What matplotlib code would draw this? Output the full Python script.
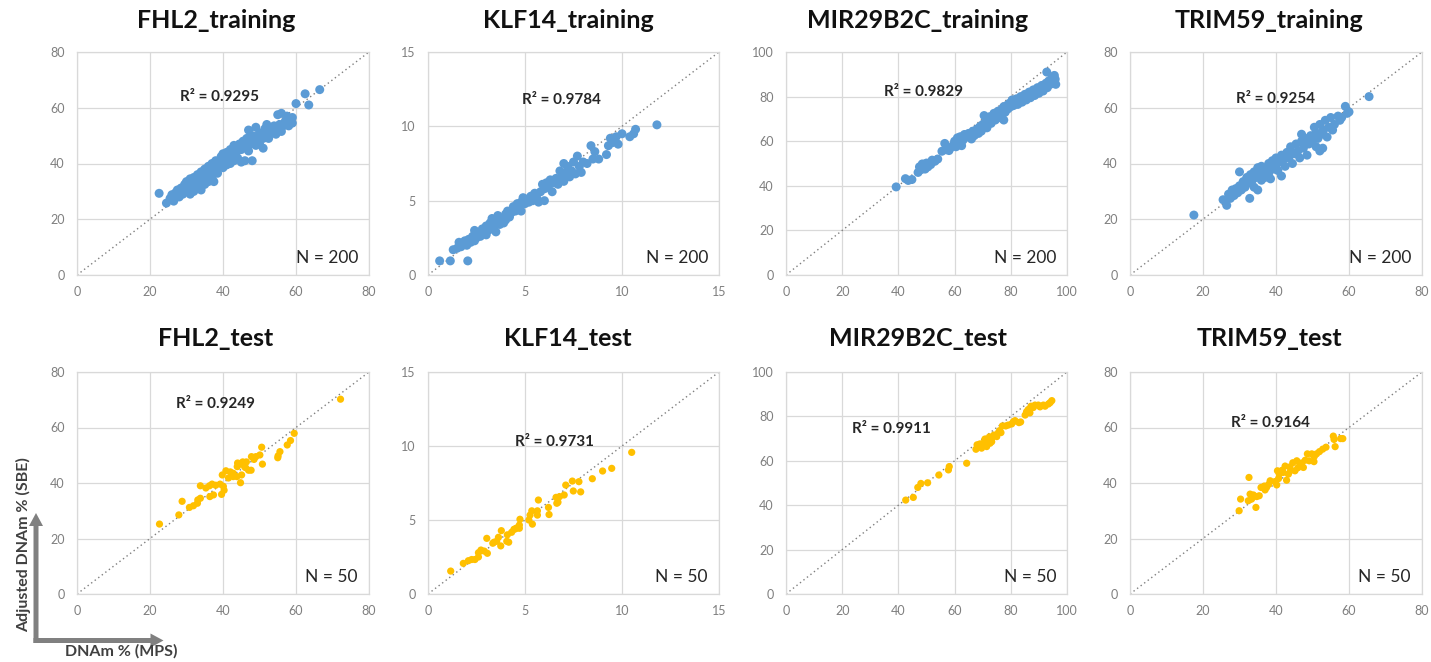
import matplotlib.pyplot as plt
import numpy as np

plt.rcParams['font.family'] = ['Lato', 'DejaVu Sans']

# --- data ---
titles = ['FHL2_training', 'KLF14_training', 'MIR29B2C_training', 'TRIM59_training',
          'FHL2_test', 'KLF14_test', 'MIR29B2C_test', 'TRIM59_test']
r2_labels = ['R² = 0.9295', 'R² = 0.9784', 'R² = 0.9829', 'R² = 0.9254',
             'R² = 0.9249', 'R² = 0.9731', 'R² = 0.9911', 'R² = 0.9164']
n_labels = ['N = 200'] * 4 + ['N = 50'] * 4
axis_max = [80, 15, 100, 80, 80, 15, 100, 80]
tick_step = [20, 5, 20, 20, 20, 5, 20, 20]

fhl2_train = [(22.5,29.3),(24.5,25.8),(25.5,27.5),(26,28.8),(26.5,26.5),(27,29.5),(27.5,30.5),(28,28),
              (28.5,31.2),(29,29),(29.5,32.5),(30,30.2),(30,33.5),(30.5,31.5),(31,29),(31,34.5),
              (31.5,32.5),(32,30),(32,35),(32.5,33),(33,31.5),(33,36),(33.5,34),(34,30.5),(34,37),
              (34.5,35),(35,32.5),(35,38),(35.5,36),(36,33.5),(36,39),(36.5,37),(37,35),(37,40),
              (37.5,33.5),(38,38),(38,41),(38.5,36.5),(39,39.5),(39.5,42.5),(40,38.5),(40,43.5),
              (40.5,41),(41,39.5),(41,44),(41.5,42),(42,40),(42,45),(42.5,43),(43,41),(43,46.5),
              (43.5,44),(44,42),(44.5,47),(45,40.5),(45,45),(45.5,48),(46,41),(46,46.5),(46.5,49),
              (47,44.5),(47,52),(47.5,47),(48,41),(48,50),(48.5,48),(49,46.5),(49,53),(49.5,49.5),
              (50,47),(50,51),(50.5,50.5),(51,45.5),(51,49),(51.5,52.5),(52,50),(52,54),(52.5,49),
              (53,51),(53.5,52),(54,53.5),(54.5,50.5),(55,57.5),(55,52),(55.5,54),(56,58),(56,51.5),
              (56.5,53.5),(57,55),(57.5,57),(58,53.5),(58,56),(58.5,55),(59,56.5),(59,54.5),
              (60,61.5),(62.5,65),(63.5,61),(66.5,66.5)]

klf14_train = [(0.6,0.95),(1.15,0.95),(2.05,0.95),(1.3,1.7),(1.5,1.8),(1.6,2.2),(1.7,1.9),(1.8,2.1),
               (1.9,2.3),(2.0,2.0),(2.1,2.4),(2.2,2.2),(2.3,2.6),(2.4,2.3),(2.4,3.0),(2.5,2.5),
               (2.6,2.8),(2.7,2.6),(2.8,3.1),(2.9,2.8),(3.0,3.3),(3.0,2.7),(3.1,3.0),(3.2,3.5),
               (3.3,3.1),(3.3,3.8),(3.4,3.3),(3.5,3.6),(3.5,2.9),(3.6,4.0),(3.7,3.4),(3.8,3.8),
               (3.9,3.5),(4.0,4.1),(4.0,3.7),(4.1,4.3),(4.2,3.9),(4.3,4.2),(4.4,4.6),(4.5,4.3),
               (4.6,4.8),(4.7,4.5),(4.8,4.9),(4.8,4.3),(4.9,5.2),(5.0,4.8),(5.1,5.1),(5.2,4.9),
               (5.3,5.3),(5.4,5.0),(5.5,5.5),(5.6,5.2),(5.7,4.9),(5.8,5.6),(5.9,6.1),(6.0,5.0),
               (6.0,5.8),(6.1,6.2),(6.2,5.9),(6.3,6.4),(6.4,5.6),(6.5,6.2),(6.6,6.5),(6.7,6.1),
               (6.8,7.0),(6.9,6.6),(7.0,7.5),(7.0,6.3),(7.1,6.9),(7.2,7.3),(7.3,6.6),(7.4,7.0),
               (7.5,7.6),(7.6,6.8),(7.7,8.0),(7.8,7.3),(7.9,6.9),(8.0,7.6),(8.2,7.5),(8.4,8.7),
               (8.5,7.8),(8.6,8.3),(8.8,7.8),(9.2,8.1),(9.3,8.7),(9.4,9.2),(9.5,8.9),(9.7,9.3),
               (9.8,8.8),(10.0,9.5),(10.4,9.3),(10.6,9.5),(10.7,9.8),(11.8,10.1)]

mir_train = [(39.2,39.5),(42.5,43.2),(43.5,42.4),(44.8,42.8),(47,46),(47.5,48.5),(48,47.2),(48.5,49.8),
             (49.5,47.5),(50,50.2),(50.5,48.5),(51.5,49.5),(52,51.5),(53,51),(54,52),(55.5,55.5),
             (56.5,59),(57,56.2),(58,55.8),(58.5,57),(59.5,58.2),(60,60),(60.5,57.5),(61,61.5),
             (61.5,59),(62,62),(62.5,58),(63,60.5),(63.5,63),(64.5,62),(65,63.5),(66,61),(66.5,64.5),
             (67,62.5),(68,65.5),(68.5,63.5),(69,66.5),(69.5,64.5),(70,67.5),(70.5,71.5),(71,68.5),
             (71.5,66),(72,69.5),(72.5,71),(73,68),(73.5,70),(74,72.5),(74.5,69.5),(75,71.5),
             (75.5,73.5),(76,72),(76.5,70.5),(77,74.5),(77.5,69.5),(77.5,75.5),(78,73),(78.5,76),
             (79,74.5),(79.5,77),(80,75.5),(80.5,78.5),(81,76),(81.5,77.5),(82,79),(82.5,76.5),
             (83,78),(83.5,80),(84,77.5),(84.5,79.5),(85,81),(85.5,78.5),(86,80.5),(86.5,82),
             (87,79.5),(87.5,81.5),(88,83),(88.5,80.5),(89,82.5),(89.5,84),(90,81.5),(90.5,83.5),
             (91,85),(91.5,82.5),(92,84.5),(92.5,86),(92.8,91),(93,84),(93.5,87),(94,85.5),
             (94.5,88),(95,86),(95.5,89.5),(95.8,87.8),(96,85.5)]

trim_train = [(17.5,21.5),(25.5,27),(26.5,25),(27,29),(27.5,27.5),(28,30.5),(28.5,28.5),(29,31),
              (29.5,29.5),(30,37),(30,32),(30.5,30.5),(31,33.5),(31.5,31.5),(32,35),(32.5,33),
              (32.8,27.5),(33,36),(33.5,34),(34,31.5),(34,37),(34.5,35),(35,30.5),(35,38.5),(35.5,36),
              (36,34),(36,39),(36.5,37),(37,35),(37.5,38.5),(38,36.5),(38,40),(38.5,34.5),(39,41),
              (39.5,38),(40,39.5),(40,42),(40.5,37.5),(41,40.5),(41.5,35.5),(41.5,43),(42,41.5),
              (42.5,39),(43,44),(43.5,42),(44,46),(44.5,40),(45,43.5),(45.5,47),(46,44.5),(46.5,42),
              (47,48),(47,50.5),(47.5,45.5),(48,49),(48.5,43),(49,47),(49.5,50),(50,48),(50.5,53),
              (51,46),(51,51),(51.5,49),(52,54),(52,44.5),(52.5,50.5),(52.8,45.5),(53,52),(53.5,55.5),
              (54,49.5),(54.5,53),(55,56.5),(55.5,52),(56,54),(57,57),(57.5,55.5),(58,56.5),
              (59,60.5),(59.5,58),(60,58.5),(65.5,64)]

fhl2_test = [(22.6,25.2),(27.9,28.5),(28.8,33.4),(30.8,31.2),(31.9,31.8),(33.1,33.9),(33,32.7),
             (33.8,39),(35.3,38.2),(36.3,39),(36.4,35.1),(37.4,35.7),(38,39.2),(39.2,39.6),
             (39.6,35.9),(40.3,37.4),(40.1,38.8),(39.8,42.9),(40.8,44.4),(42.8,42.3),(42.8,43.5),
             (43.8,42.3),(43.9,45.9),(44.5,46.8),(44.8,40.1),(45.1,42.9),(45.4,47.6),(45.9,45.9),
             (46.4,47.6),(47,44.6),(47.7,44.6),(47.8,49.5),(49,49.5),(50.1,50.1),(50.6,52.9),
             (50.8,46.8),(55,49.1),(55.1,49.8),(55.6,51.3),(57.6,53.7),(58.5,55.3),(59.5,57.9),
             (72.2,70.2),(44,47.2),(46.2,45.5),(41.5,41.8),(37,39.6),(48.5,48.5),(42,44),(33.8,34.5)]

klf14_test = [(1.17,1.55),(1.82,2.07),(2.08,2.25),(2.25,2.33),(2.42,2.33),(2.6,2.5),(2.6,2.79),
              (2.73,2.97),(3.06,2.75),(3.03,3.76),(3.34,3.43),(3.54,3.56),(3.63,3.83),(3.75,3.25),
              (3.78,4.28),(4.06,3.56),(4.16,3.5),(4.09,4.0),(4.31,4.17),(4.43,4.37),(4.57,4.46),
              (4.71,4.44),(4.74,5.05),(4.71,4.66),(5.26,5.33),(5.35,5.62),(5.38,4.72),(5.64,5.33),
              (5.69,6.35),(5.64,5.62),(6.21,5.85),(6.24,5.37),(6.6,6.53),(6.64,6.13),(6.78,6.58),
              (7.02,6.69),(7.1,7.36),(7.44,7.63),(7.49,6.96),(7.78,7.59),(7.87,6.9),(8.47,7.79),
              (9.0,8.31),(9.47,8.49),(10.5,9.57),(5.2,5.0),(3.4,3.5),(6.7,6.2),(4.5,4.4),(2.9,2.9)]

mir_test = [(42.6,42.3),(45.3,43.5),(46.9,48.0),(48.0,49.8),(50.4,50.1),(54.4,53.6),(57.8,55.9),
            (58.1,57.4),(64.3,58.9),(67.6,65.2),(68.4,66.4),(69,67.6),(69.6,65.7),(70.2,67.9),
            (71,68.6),(71.4,66.4),(72,69.4),(72.6,67.9),(73.2,70.1),(73.2,68.6),(75,70.9),
            (75.6,72.7),(76.5,72.7),(77,75.7),(78.2,75.7),(79.1,76.1),(80.3,76.6),(80.9,77.6),
            (81.5,78.1),(82.9,77.2),(85.1,80.6),(85.6,82.1),(86.2,83.1),(86.8,81.6),(88,84),
            (88.6,85.1),(89.8,85.1),(90.4,84.3),(91.6,85.1),(92.2,84.6),(93.4,85.6),(94.6,87.1),
            (94,86.2),(68,67.2),(70.8,69.8),(72.4,70.8),(74,71.6),(76,73.6),(83.5,77.5),(87.2,84.6)]

trim_test = [(29.9,30),(30.3,34.2),(32.4,33.6),(32.6,42),(32.9,36),(33.3,34.2),(33.8,35.7),
             (34.5,31.2),(34.7,35.1),(35.4,35.4),(35.9,38.4),(36.8,38.9),(37.4,38.4),(38.4,40.8),
             (39.7,40.5),(40.2,39.3),(40.4,44.4),(40.7,41.6),(40.9,43.2),(41.7,44.6),(42.5,46.1),
             (42.9,41),(43.4,43.2),(43.8,45.8),(44.6,47.3),(45.2,44.4),(45.7,48),(46.6,46.8),
             (47.5,45.6),(48,48.2),(48.6,50.5),(49.1,48),(49.8,50.5),(50.4,47.7),(51.1,50.5),
             (51.9,51.3),(52.8,52.2),(53.7,52.9),(55.7,56.9),(55.9,55.7),(56.2,53.1),(57.7,56),
             (58.3,56),(38,39.5),(44,44.5),(47,47.2),(42,43.8),(50.5,49.6),(37,37.5),(46,45.5)]

panel_data = [fhl2_train, klf14_train, mir_train, trim_train,
              fhl2_test, klf14_test, mir_test, trim_test]

# --- layout (pixels in the 1431x662 canvas) ---
W, H = 1431, 662
cols = [(77, 369), (428, 719), (786, 1067), (1130, 1422)]
rows = [(52, 275), (372, 594)]
title_x = [216, 568, 918, 1269]
title_y = [20, 338]
r2_pos = [(39, 64), (6.9, 11.8), (49, 82), (40, 63),
          (38, 68.4), (6.5, 10.3), (37.6, 74.2), (38.6, 61.5)]

fig = plt.figure(figsize=(W / 100, H / 100), dpi=100)

for i, pts in enumerate(panel_data):
    r, c = divmod(i, 4)
    l, rt = cols[c]
    t, b = rows[r]
    ax = fig.add_axes([l / W, 1 - b / H, (rt - l) / W, (b - t) / H])

    xs, ys = np.array(pts).T
    if r == 0:
        ax.scatter(xs, ys, s=42, color='#5b9bd5', edgecolors='none', zorder=3)
    else:
        ax.scatter(xs, ys, s=27, color='#ffc000', edgecolors='none', zorder=3)

    m = axis_max[i]
    ax.plot([0, m], [0, m], ls=(0, (1, 2.2)), color='#7f7f7f', lw=1, zorder=2)
    ax.set_xlim(0, m)
    ax.set_ylim(0, m)
    ticks = np.arange(0, m + 1, tick_step[i])
    ax.set_xticks(ticks)
    ax.set_yticks(ticks)
    ax.grid(color='#d9d9d9', lw=0.9)
    ax.set_axisbelow(True)
    for sp in ax.spines.values():
        sp.set_color('#d9d9d9')
        sp.set_linewidth(0.9)
    ax.tick_params(length=0, labelsize=9, labelcolor='#7f7f7f')
    ax.tick_params(axis='x', pad=8)
    ax.tick_params(axis='y', pad=9)

    ax.text(r2_pos[i][0], r2_pos[i][1], r2_labels[i], ha='center', va='center',
            fontsize=11, fontweight='bold', color='#262626', zorder=4)
    ax.text(0.962, 0.076, n_labels[i], transform=ax.transAxes, ha='right', va='center',
            fontsize=12.5, color='#262626')
    fig.text(title_x[c] / W, 1 - title_y[r] / H, titles[i], ha='center', va='center',
             fontsize=18, fontweight='bold', color='#111111')

# axis-direction arrows in the lower-left corner
ov = fig.add_axes([0, 0, 1, 1])
ov.set_xlim(0, W)
ov.set_ylim(H, 0)
ov.axis('off')
ov.arrow(36, 643, 0, -130, width=5, head_width=14, head_length=13,
         length_includes_head=True, color='#808080', lw=0)
ov.arrow(33.5, 640.5, 130, 0, width=5, head_width=14, head_length=13,
         length_includes_head=True, color='#808080', lw=0)
ov.text(24, 545, 'Adjusted DNAm % (SBE)', rotation=90, ha='center', va='center',
        fontsize=11.5, fontweight='bold', color='#404040')
ov.text(121, 651, 'DNAm % (MPS)', ha='center', va='center',
        fontsize=11.5, fontweight='bold', color='#404040')

fig.savefig('out.png', dpi=100)
